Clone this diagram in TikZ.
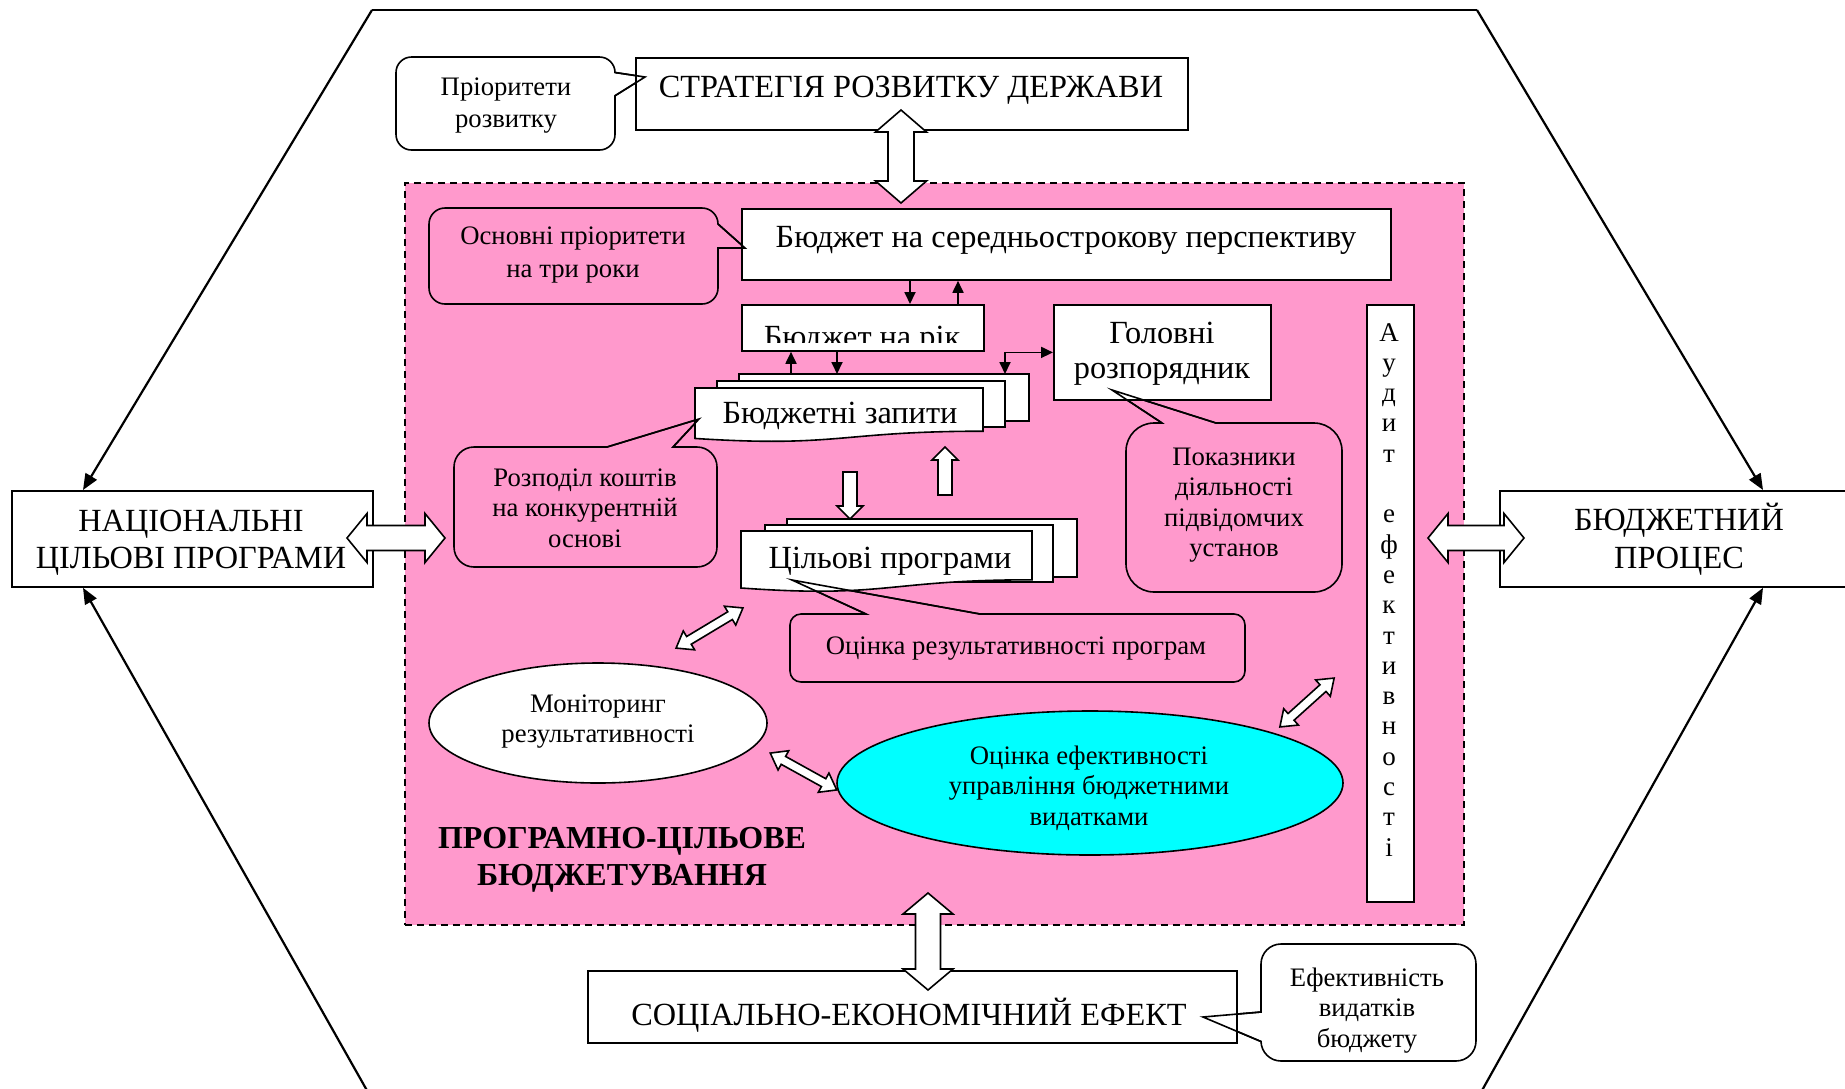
\documentclass[tikz,border=0pt]{standalone}
\usepackage{fontspec}
\setmainfont{Liberation Serif}
\usetikzlibrary{arrows.meta,shapes.geometric}
\definecolor{pinkbg}{RGB}{255,153,204}
\definecolor{cyanbg}{RGB}{0,255,255}
% rounded-rectangle callout with a wedge: x1 y1 x2 y2 r top-wedge right-wedge left-wedge
\newcommand\callpath[8]{({#1+#5},#2) #6 -- ({#3-#5},#2) .. controls ({#3-0.448*#5},#2) and (#3,{#2+0.448*#5}) .. (#3,{#2+#5}) #7 -- (#3,{#4-#5}) .. controls (#3,{#4-0.448*#5}) and ({#3-0.448*#5},#4) .. ({#3-#5},#4) -- ({#1+#5},#4) .. controls ({#1+0.448*#5},#4) and (#1,{#4-0.448*#5}) .. (#1,{#4-#5}) #8 -- (#1,{#2+#5}) .. controls (#1,{#2+0.448*#5}) and ({#1+0.448*#5},#2) .. ({#1+#5},#2) -- cycle}
% document shape with wavy bottom: x y w h
\newcommand\docpath[4]{(#1,#2) -- ({#1+#3},#2) -- ({#1+#3},{#2+0.80*#4}) .. controls ({#1+0.5*#3},{#2+0.80*#4}) and ({#1+0.5*#3},{#2+1.107*#4}) .. (#1,{#2+0.934*#4}) -- cycle}
% double block arrow: cx cy angle length shaft head headlength
\newcommand\dblarr[7]{%
 \pgfmathsetmacro\baLa{#4/2}\pgfmathsetmacro\baLb{#4/2-#7}%
 \pgfmathsetmacro\baSw{#5/2}\pgfmathsetmacro\baHw{#6/2}%
 \begin{scope}[shift={(#1,#2)},rotate=#3]
 \draw[blockarr] (-\baLa,0) -- (-\baLb,\baHw) -- (-\baLb,\baSw) -- (\baLb,\baSw) -- (\baLb,\baHw) -- (\baLa,0) -- (\baLb,-\baHw) -- (\baLb,-\baSw) -- (-\baLb,-\baSw) -- (-\baLb,-\baHw) -- cycle;
 \end{scope}}
% single block arrow pointing to local +x
\newcommand\sglarr[7]{%
 \pgfmathsetmacro\baLa{#4/2}\pgfmathsetmacro\baLb{#4/2-#7}%
 \pgfmathsetmacro\baSw{#5/2}\pgfmathsetmacro\baHw{#6/2}%
 \begin{scope}[shift={(#1,#2)},rotate=#3]
 \draw[blockarr] (-\baLa,-\baSw) -- (\baLb,-\baSw) -- (\baLb,-\baHw) -- (\baLa,0) -- (\baLb,\baHw) -- (\baLb,\baSw) -- (-\baLa,\baSw) -- cycle;
 \end{scope}}
\begin{document}
\begin{tikzpicture}[x=1pt,y=-1pt,
 box/.style={draw, line width=1.8pt, fill=white, rectangle, inner sep=0pt, anchor=north west},
 bigtxt/.style={font=\fontsize{32.3}{37}\selectfont, inner sep=0pt, anchor=base},
 smtxt/.style={font=\fontsize{26.7}{30}\selectfont, inner sep=0pt, anchor=base},
 audtxt/.style={font=\fontsize{27}{30}\selectfont, inner sep=0pt, anchor=base},
 boldtxt/.style={font=\bfseries\fontsize{32}{37}\selectfont, inner sep=0pt, anchor=base},
 callline/.style={draw, line width=1.6pt},
 docline/.style={draw, line width=1.6pt, fill=white},
 hexline/.style={line width=2.2pt},
 hexarr/.style={hexline, -{Triangle[length=16pt,width=13pt]}},
 blockarr/.style={draw, fill=white, line width=1.6pt, line join=miter},
 blk/.style={line width=1.8pt, -{Triangle[length=12pt,width=11pt]}},
 blk2/.style={line width=1.8pt, {Triangle[length=12pt,width=11pt]}-{Triangle[length=12pt,width=11pt]}}
]
\useasboundingbox (0,0) rectangle (1845,1088);
\fill[white] (0,0) rectangle (1845,1088);

% outer boxes
\node[box, minimum width=361pt, minimum height=96pt] (nat) at (11,490) {};
\node[box, minimum width=362pt, minimum height=96pt] (proc) at (1499,490) {};

% hexagon
\coordinate (hTL) at (372,10);
\coordinate (hTR) at (1477,10);
\coordinate (hBL) at (369,1094);
\coordinate (hBR) at (1480,1094);
\draw[hexline] (hTL) -- (hTR);
\draw[hexarr] (hTL) -- ([xshift=72pt]nat.north west);
\draw[hexarr] (hBL) -- ([xshift=72pt]nat.south west);
\draw[hexarr] (hTR) -- ([xshift=264pt]proc.north west);
\draw[hexarr] (hBR) -- ([xshift=264pt]proc.south west);

% pink area
\node[draw, fill=pinkbg, line width=1.6pt, dash pattern=on 7pt off 5pt, inner sep=0pt, anchor=north west, minimum width=1059pt, minimum height=742pt] (pcb) at (404,182) {};

% callout bodies
\draw[callline, fill=white] \callpath{396}{57}{615}{150}{15.5}{}{-- (645,77) -- (615,95.75)}{};
\draw[callline, fill=pinkbg] \callpath{429}{208}{718}{304}{16}{}{-- (745,248) -- (718,248)}{};
\draw[callline, fill=pinkbg] \callpath{1126}{423}{1342}{592}{28}{-- (1162,423) -- (1112,390) -- (1216,423)}{}{};
\draw[callline, fill=pinkbg] \callpath{454}{447}{717}{567}{20}{-- (607,447) -- (699,419) -- (673,447)}{}{};
\draw[callline, fill=pinkbg] \callpath{790}{614}{1245}{682}{11}{-- (866,614) -- (792,580) -- (980,614)}{}{};
\draw[callline, fill=white] \callpath{1261}{944}{1476}{1061}{20}{}{}{-- (1261,1041.5) -- (1203,1017) -- (1261,1012)};

% boxes
\node[box, minimum width=552pt, minimum height=72pt] (strat) at (635,57) {};
\node[box, minimum width=649pt, minimum height=71pt] (mid) at (741,208) {};
\node[box, minimum width=242pt, minimum height=46pt] (year) at (741,304) {};
\node[box, minimum width=217pt, minimum height=95pt] (holov) at (1053,304) {};
\node[box, minimum width=47pt, minimum height=597pt] (audit) at (1366,304) {};
\node[box, minimum width=649pt, minimum height=72pt] (soc) at (587,970) {};

% budget requests stack
\coordinate (zapB) at (739,374);
\draw[docline] (zapB) rectangle (1029,421);
\draw[docline] (717,381) rectangle (1005,427);
\draw[docline] \docpath{695}{388}{288}{54};
% target programs stack
\draw[docline] (787,519) rectangle (1077,577);
\draw[docline] (765,525) rectangle (1053,582);
\draw[docline] \docpath{741}{531}{291}{61};

% ellipses
\node[ellipse, draw, fill=white, line width=1.6pt, minimum width=338pt, minimum height=120pt, inner sep=0pt] (monit) at (598,723) {};
\node[ellipse, draw, fill=cyanbg, line width=1.6pt, minimum width=506pt, minimum height=144pt, inner sep=0pt] (effic) at (1090,783) {};

% wedge lines over boxes
\draw[callline] (615,72.5) -- (645,77) -- (615,95.75);
\draw[callline] (718,224) -- (745,248) -- (718,248);
\draw[callline] (1162,423) -- (1112,390) -- (1216,423);
\draw[callline] (607,447) -- (699,419) -- (673,447);
\draw[callline] (866,614) -- (792,580) -- (980,614);
\draw[callline] (1261,1041.5) -- (1203,1017) -- (1261,1012);

% texts
\node[bigtxt] (t-strat) at (911,97) {СТРАТЕГІЯ РОЗВИТКУ ДЕРЖАВИ};
\node[smtxt] (t-pri1) at (506,95) {Пріоритети};
\node[smtxt] (t-pri2) at (506,127) {розвитку};
\node[bigtxt] (t-mid) at (1066,247) {Бюджет на середньострокову перспективу};
\node[smtxt] (t-osn1) at (573,244) {Основні пріоритети};
\node[smtxt] (t-osn2) at (573,277) {на три роки};
\begin{scope}
\clip (741,304) rectangle (983,342);
\node[bigtxt] (t-year) at (862,347) {Бюджет на рік};
\end{scope}
\node[bigtxt] (t-hol1) at (1162,343) {Головні};
\node[bigtxt] (t-hol2) at (1162,378) {розпорядник};
\node[bigtxt] (t-zap) at (840,423) {Бюджетні запити};
\node[smtxt] (t-pok1) at (1234,465) {Показники};
\node[smtxt] (t-pok2) at (1234,495) {діяльності};
\node[smtxt] (t-pok3) at (1234,526) {підвідомчих};
\node[smtxt] (t-pok4) at (1234,556) {установ};
\node[smtxt] (t-roz1) at (585,486) {Розподіл коштів};
\node[smtxt] (t-roz2) at (585,516) {на конкурентній};
\node[smtxt] (t-roz3) at (585,547) {основі};
\node[bigtxt] (t-cil) at (890,568) {Цільові програми};
\node[smtxt] (t-ocr) at (1016,654) {Оцінка результативності програм};
\node[smtxt] (t-mon1) at (598,712) {Моніторинг};
\node[smtxt] (t-mon2) at (598,742) {результативності};
\node[smtxt] (t-ef1) at (1089,764) {Оцінка ефективності};
\node[smtxt] (t-ef2) at (1089,794) {управління бюджетними};
\node[smtxt] (t-ef3) at (1089,825) {видатками};
\node[boldtxt] (t-pcb1) at (622,848) {ПРОГРАМНО-ЦІЛЬОВЕ};
\node[boldtxt] (t-pcb2) at (622,885) {БЮДЖЕТУВАННЯ};
\node[bigtxt] (t-soc) at (909,1025) {СОЦІАЛЬНО-ЕКОНОМІЧНИЙ ЕФЕКТ};
\node[smtxt] (t-efv1) at (1367,986) {Ефективність};
\node[smtxt] (t-efv2) at (1367,1016) {видатків};
\node[smtxt] (t-efv3) at (1367,1047) {бюджету};
\node[bigtxt] (t-nat1) at (191,531) {НАЦІОНАЛЬНІ};
\node[bigtxt] (t-nat2) at (191,568) {ЦІЛЬОВІ ПРОГРАМИ};
\node[bigtxt] (t-proc1) at (1679,530) {БЮДЖЕТНИЙ};
\node[bigtxt] (t-proc2) at (1679,568) {ПРОЦЕС};
\foreach \ch [count=\i from 0] in {А,у,д,и,т,{},е,ф,е,к,т,и,в,н,о,с,т,і}
  \node[audtxt] (aud\i) at (1389,{341+30.3*\i}) {\ch};

% small black arrows
\draw[blk] ([xshift=169pt]mid.south west) -- ([xshift=169pt]year.north west);
\draw[blk] ([xshift=217pt]year.north west) -- ([xshift=217pt]mid.south west);
\draw[blk] ([xshift=52pt]zapB) -- ([xshift=50pt]year.south west);
\draw[blk] ([xshift=96pt]year.south west) -- ([xshift=98pt]zapB);
\draw[blk2] ([xshift=266pt]zapB) |- (holov.west);

% block arrows
\dblarr{901}{156.5}{90}{93}{26}{51}{22}
\dblarr{928}{941.5}{90}{97}{25}{50}{21}
\dblarr{396}{538}{0}{98}{25}{49}{20}
\dblarr{1476}{538}{0}{96}{25}{49}{20}
\sglarr{850}{495.5}{-90}{47}{14}{26}{13}
\sglarr{945}{471}{90}{48}{14}{26}{13}
\dblarr{709.5}{628}{31}{78}{9}{22}{15}
\dblarr{803.5}{771.5}{-29}{76}{9}{22}{15}
\dblarr{1307}{702.5}{42}{73}{9}{22}{15}
\end{tikzpicture}
\end{document}
